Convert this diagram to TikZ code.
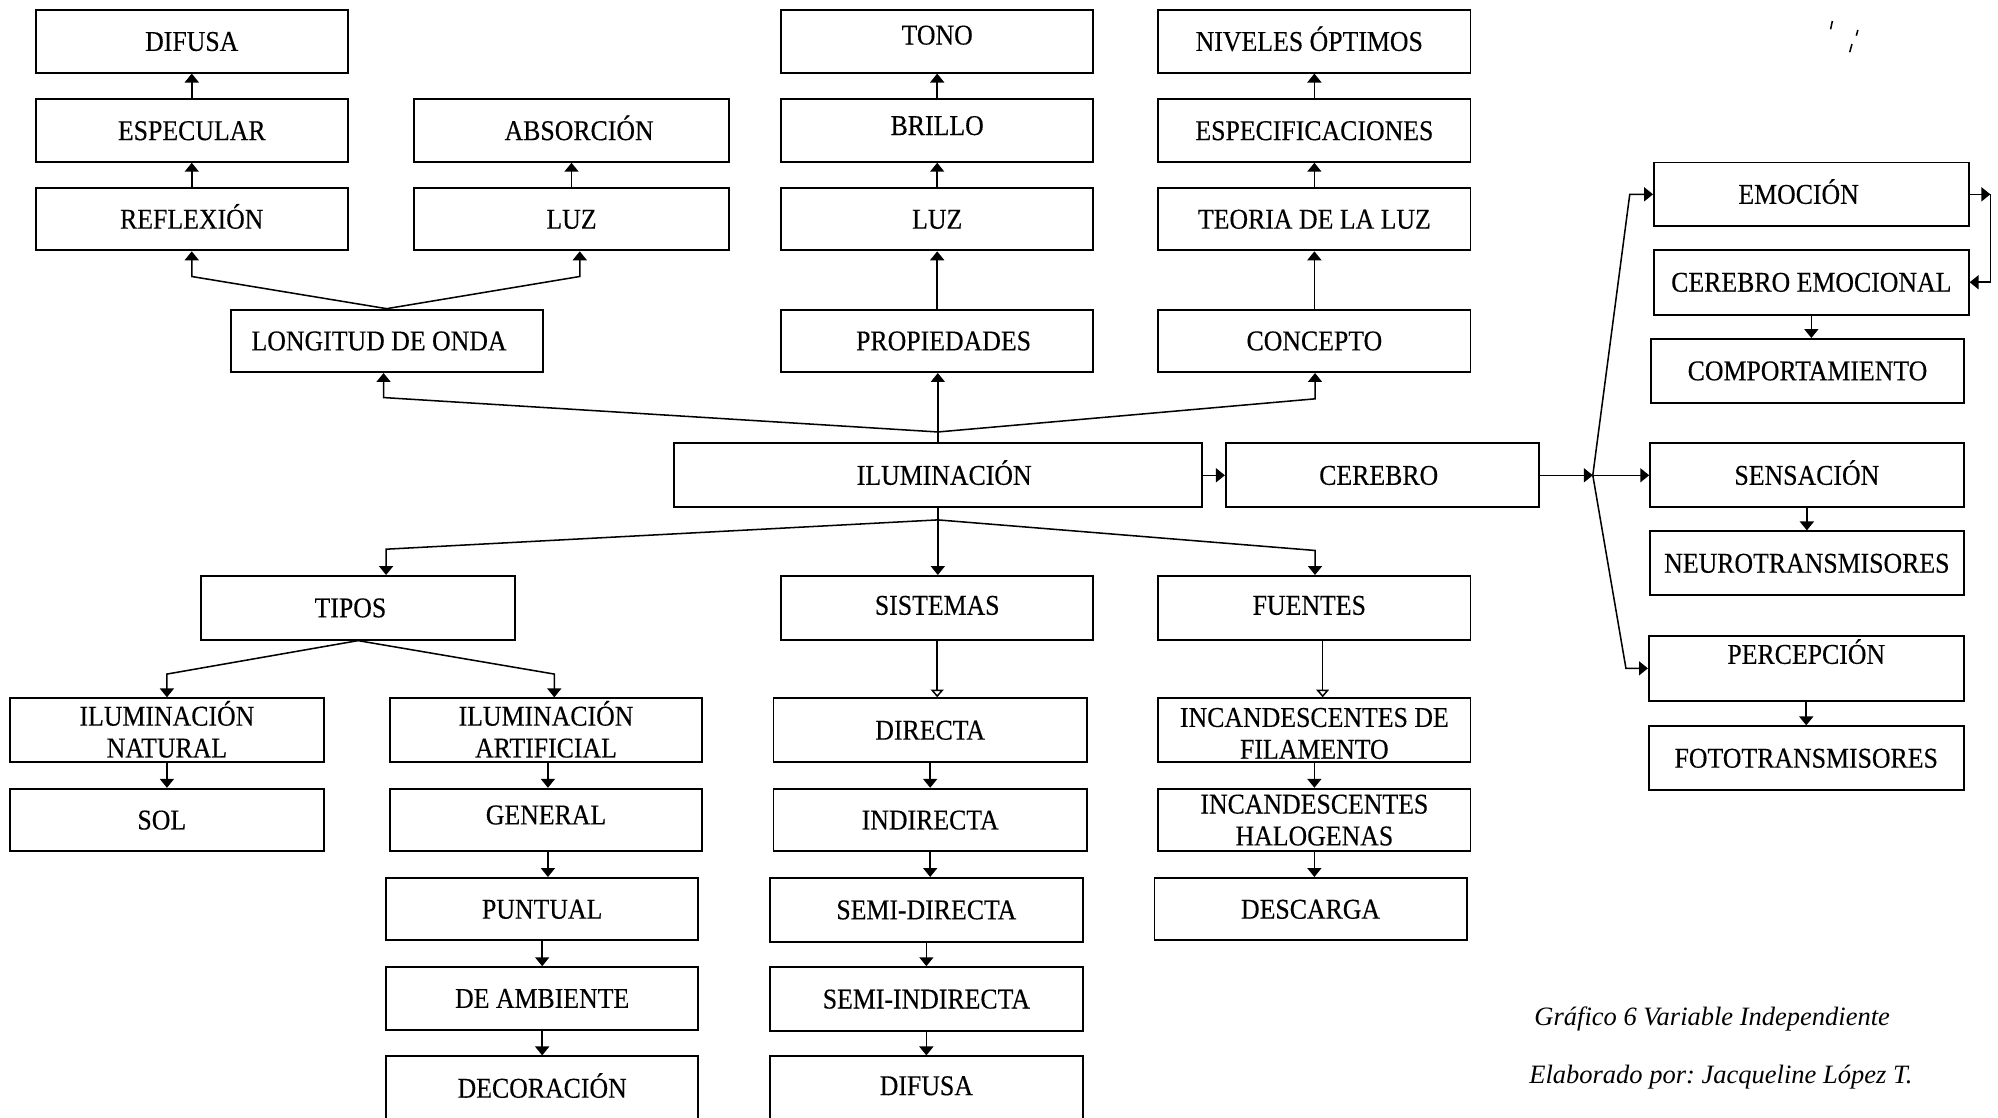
\documentclass[tikz,border=0pt]{standalone}
\usepackage{fontspec}
\setmainfont{Liberation Serif}[FakeStretch=0.9,FakeBold=0.3]
\newfontfamily\capfont{Liberation Serif}
\usetikzlibrary{arrows.meta}
\tikzset{
  box/.style={draw, line width=1.5pt, inner sep=0pt, minimum width=245pt, minimum height=49pt,
    font=\fontsize{22.5}{25}\selectfont, text height=14.9pt, text depth=0pt},
  conn/.style={line width=1.2pt},
  arr/.style={conn, -{Triangle[width=11pt,length=7pt]}},
  oarr/.style={conn, -{Triangle[open,width=10pt,length=6pt]}},
  captext/.style={inner sep=0pt, anchor=west, font=\capfont\itshape\fontsize{20.8}{25}\selectfont},
}
\newcommand\twol[3]{\raisebox{#1}{\begin{tabular}[t]{@{}c@{}}#2\\#3\end{tabular}}}
\begin{document}
\frenchspacing
\begin{tikzpicture}[x=1pt,y=-1pt]
\fill[white] (0,0) rectangle (1568,877);
\useasboundingbox (0,0) rectangle (1568,877);

% top left column
\node[box] (difA) at (150.5,32.5) {DIFUSA};
\node[box] (espec) at (150.5,102.5) {ESPECULAR};
\node[box] (reflex) at (150.5,172) {REFLEXIÓN};
\node[box, minimum width=247pt] (absor) at (448.5,102.5) {\hspace*{12pt}ABSORCIÓN};
\node[box, minimum width=247pt] (luzA) at (448.5,172) {LUZ};
\node[box] (longitud) at (303.5,267.5) {\hspace*{-12pt}LONGITUD DE ONDA};

% middle column
\node[box] (tono) at (735.5,32.5) {\raisebox{5pt}{TONO}};
\node[box] (brillo) at (735.5,102.5) {\raisebox{4pt}{BRILLO}};
\node[box] (luzB) at (735.5,172) {LUZ};
\node[box] (propied) at (735.5,267.5) {\hspace*{10pt}PROPIEDADES};

% right column
\node[box] (niveles) at (1031.5,32.5) {\hspace*{-8pt}NIVELES ÓPTIMOS};
\node[box] (especif) at (1031.5,102.5) {ESPECIFICACIONES};
\node[box] (teoria) at (1031.5,172) {TEORIA DE LA LUZ};
\node[box] (concepto) at (1031.5,267.5) {CONCEPTO};

% center
\node[box, minimum width=414pt, minimum height=50pt] (ilum) at (736,373) {\hspace*{10pt}ILUMINACIÓN};
\node[box, minimum width=246pt, minimum height=50pt] (cerebro) at (1085,373) {\hspace*{-6pt}CEREBRO};

% far right
\node[box, minimum width=247pt, minimum height=50pt] (emocion) at (1421.5,152.5) {\hspace*{-20pt}EMOCIÓN};
\node[box, minimum width=247pt, minimum height=51pt] (cemoc) at (1421.5,221.5) {CEREBRO EMOCIONAL};
\node[box, minimum height=50pt] (comport) at (1418.5,291) {COMPORTAMIENTO};
\node[box, minimum width=246pt, minimum height=50pt] (sensac) at (1418,373) {SENSACIÓN};
\node[box, minimum width=246pt, minimum height=50pt] (neuro) at (1418,442) {NEUROTRANSMISORES};
\node[box, minimum width=247pt, minimum height=51pt] (percep) at (1417.5,524.5) {\raisebox{11pt}{PERCEPCIÓN}};
\node[box, minimum width=247pt, minimum height=50pt] (foto) at (1417.5,595) {FOTOTRANSMISORES};

% lower level
\node[box, minimum width=246pt, minimum height=50pt] (tipos) at (281,477) {\hspace*{-12pt}TIPOS};
\node[box, minimum height=50pt] (sistemas) at (735.5,477) {\raisebox{2pt}{SISTEMAS}};
\node[box, minimum height=50pt] (fuentes) at (1031.5,477) {\hspace*{-8pt}\raisebox{2pt}{FUENTES}};

% tipos branch
\node[box, minimum width=246pt, minimum height=50pt] (ilnat) at (131,573) {\twol{11pt}{ILUMINACIÓN}{NATURAL}};
\node[box, minimum width=246pt] (sol) at (131,643.5) {\hspace*{-8pt}SOL};
\node[box, minimum height=50pt] (ilart) at (428.5,573) {\twol{11pt}{ILUMINACIÓN}{ARTIFICIAL}};
\node[box] (general) at (428.5,643.5) {\raisebox{4pt}{GENERAL}};
\node[box] (puntual) at (425.5,713.5) {PUNTUAL};
\node[box] (ambiente) at (425.5,783.5) {DE AMBIENTE};
\node[box, minimum height=50pt] (decor) at (425.5,854) {DECORACIÓN};

% sistemas branch
\node[box, minimum width=246pt, minimum height=50pt] (directa) at (730,573) {DIRECTA};
\node[box, minimum width=246pt] (indirecta) at (730,643.5) {INDIRECTA};
\node[box, minimum width=246pt, minimum height=50pt] (semid) at (727,714) {SEMI-DIRECTA};
\node[box, minimum width=246pt, minimum height=50pt] (semii) at (727,784) {SEMI-INDIRECTA};
\node[box, minimum width=246pt, minimum height=50pt] (difB) at (727,854) {\raisebox{2pt}{DIFUSA}};

% fuentes branch
\node[box, minimum height=50pt] (incfil) at (1031.5,573) {\twol{10pt}{INCANDESCENTES DE}{FILAMENTO}};
\node[box] (inchal) at (1031.5,643.5) {\twol{12.5pt}{INCANDESCENTES}{HALOGENAS}};
\node[box] (descarga) at (1028.5,713.5) {DESCARGA};

% captions
\node[captext] (cap1) at (1204,800) {Gráfico 6 Variable Independiente};
\node[captext] (cap2) at (1200,845) {Elaborado por: Jacqueline López T.};

% stray accent marks
\draw[line width=1.2pt] (1438,16.5) -- (1436.6,23);
\draw[line width=1.2pt] (1458,23.5) -- (1456.8,28);
\draw[line width=1.2pt] (1453.4,34.5) -- (1451.6,41);

% coordinates for junctions and elbows
\coordinate (jt) at (736,339);
\coordinate (eL) at (301,312);
\coordinate (eR) at (1032,313);
\coordinate (e1) at (150.5,217);
\coordinate (e2) at (455,217);
\coordinate (jb) at (736,408);
\coordinate (eT) at (303,431);
\coordinate (eF) at (1032,432);
\coordinate (eN) at (131,529);
\coordinate (eA) at (435,529);
\coordinate (jc) at (1250,373);
\coordinate (eE) at (1279,152.5);
\coordinate (eP) at (1276,524.5);
\coordinate (cL) at (1562,152.5);

% upward tree
\draw[conn] (ilum.north) -- (jt);
\draw[arr] (jt) -- (jt |- propied.south);
\draw[arr] (jt) -- (eL) -- (eL |- longitud.south);
\draw[arr] (jt) -- (eR) -- (eR |- concepto.south);
\draw[arr] (longitud.north) -- (e1) -- (e1 |- reflex.south);
\draw[arr] (longitud.north) -- (e2) -- (e2 |- luzA.south);
\draw[arr] (reflex.north) -- (espec.south);
\draw[arr] (espec.north) -- (difA.south);
\draw[arr] (luzA.north) -- (absor.south);
\draw[arr] (propied.north) -- (luzB.south);
\draw[arr] (luzB.north) -- (brillo.south);
\draw[arr] (brillo.north) -- (tono.south);
\draw[arr] (concepto.north) -- (teoria.south);
\draw[arr] (teoria.north) -- (especif.south);
\draw[arr] (especif.north) -- (niveles.south);

% to cerebro
\draw[arr] (ilum.east) -- (cerebro.west);
\draw[arr] (cerebro.east) -- (jc);
\draw[arr] (jc) -- (sensac.west);
\draw[arr] (jc) -- (eE) -- (emocion.west);
\draw[arr] (jc) -- (eP) -- (percep.west);
\draw[arr] (emocion.east) -- (cL);
\draw[arr] (cL) -- (cL |- cemoc.east) -- (cemoc.east);
\draw[arr] (cemoc.south) -- (cemoc.south |- comport.north);
\draw[arr] (sensac.south) -- (neuro.north);
\draw[arr] (percep.south) -- (foto.north);

% downward tree
\draw[conn] (ilum.south) -- (jb);
\draw[arr] (jb) -- (jb |- sistemas.north);
\draw[arr] (jb) -- (eF) -- (eF |- fuentes.north);
\draw[arr] (jb) -- (eT) -- (eT |- tipos.north);
\draw[arr] (tipos.south) -- (eN) -- (eN |- ilnat.north);
\draw[arr] (tipos.south) -- (eA) -- (eA |- ilart.north);
\draw[arr] (ilnat.south) -- (sol.north);
\draw[arr] ([xshift=1.5pt]ilart.south) -- ([xshift=1.5pt]ilart.south |- general.north);
\draw[arr] ([xshift=1.5pt]general.south) -- ([xshift=1.5pt]general.south |- puntual.north);
\draw[arr] (puntual.south) -- (ambiente.north);
\draw[arr] (ambiente.south) -- (decor.north);
\draw[oarr] (sistemas.south) -- (sistemas.south |- directa.north);
\draw[arr] (directa.south) -- (indirecta.north);
\draw[arr] (indirecta.south) -- (indirecta.south |- semid.north);
\draw[arr] (semid.south) -- (semii.north);
\draw[arr] (semii.south) -- (difB.north);
\draw[oarr] ([xshift=6.5pt]fuentes.south) -- ([xshift=6.5pt]fuentes.south |- incfil.north);
\draw[arr] (incfil.south) -- (inchal.north);
\draw[arr] (inchal.south) -- (inchal.south |- descarga.north);
\end{tikzpicture}
\end{document}
